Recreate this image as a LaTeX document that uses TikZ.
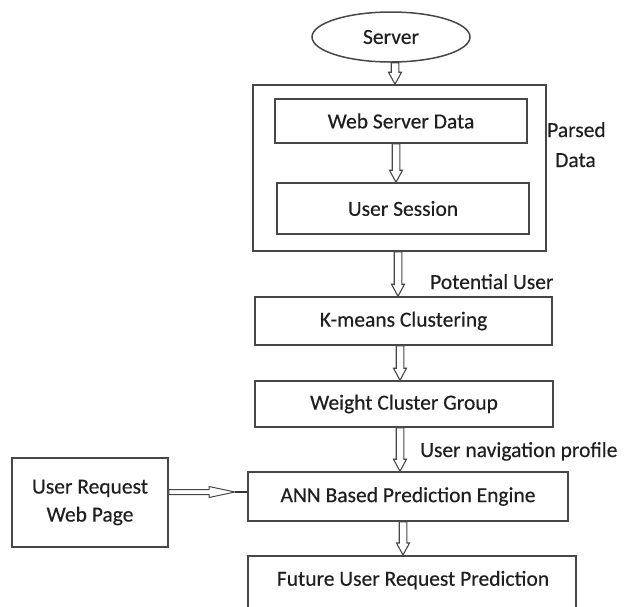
\documentclass[tikz,border=0pt]{standalone}
\usepackage{fontspec}
\setmainfont{Carlito}[FakeBold=0.35]
\usetikzlibrary{calc,shapes.geometric}
\tikzset{
  harrow/.style n args={3}{to path={
    let \p1=(\tikztostart), \p2=(\tikztotarget),
        \n1={veclen(\x2-\x1,\y2-\y1)},
        \n2={(\x2-\x1)/\n1}, \n3={(\y2-\y1)/\n1}
    in ({\x1-(\n3)*#1}, {\y1+(\n2)*#1})
    -- ({\x2-(\n2)*#3-(\n3)*#1}, {\y2-(\n3)*#3+(\n2)*#1})
    -- ({\x2-(\n2)*#3-(\n3)*#2}, {\y2-(\n3)*#3+(\n2)*#2})
    -- (\x2,\y2)
    -- ({\x2-(\n2)*#3+(\n3)*#2}, {\y2-(\n3)*#3-(\n2)*#2})
    -- ({\x2-(\n2)*#3+(\n3)*#1}, {\y2-(\n3)*#3-(\n2)*#1})
    -- ({\x1+(\n3)*#1}, {\y1-(\n2)*#1}) -- cycle
  }},
  txt/.style={font=\fontsize{21.5}{28}\selectfont, text=black!88},
  box/.style={txt, draw=black!72, line width=1.5pt, rectangle, inner sep=0pt},
  lbl/.style={txt, inner sep=0pt, anchor=base west},
  varrow/.style={draw=black!72, line width=1.1pt, fill=white, harrow={3.8pt}{6.5pt}{12pt}},
  sarrow/.style={draw=black!72, line width=1.0pt, fill=white, harrow={2.5pt}{5.5pt}{26pt}},
  plainline/.style={draw=black!80, line width=1.8pt}
}
\begin{document}
\begin{tikzpicture}[x=1pt,y=-1pt]
\useasboundingbox (0,0) rectangle (624,606);
% nodes
\node[box, ellipse, minimum width=158pt, minimum height=50pt] (server) at (391,37) {Server};
\node[box, minimum width=293pt, minimum height=166pt] (outer) at (399.5,168) {};
\node[box, minimum width=252pt, minimum height=44pt] (ws) at (401,121) {Web Server Data};
\node[box, minimum width=252pt, minimum height=51pt] (us) at (403,208.5) {User Session};
\node[box, minimum width=297pt, minimum height=48pt] (km) at (403.5,321) {K-means Clustering};
\node[box, minimum width=298pt, minimum height=46pt] (wc) at (404,404) {Weight Cluster Group};
\node[box, minimum width=320pt, minimum height=49pt] (ann) at (408,496.5) {ANN Based Prediction Engine};
\node[box, minimum width=328pt, minimum height=62pt, anchor=north] (fut) at (412,555) {};
\node[txt, inner sep=0pt] (futt) at (413,580) {Future User Request Prediction};
\node[box, minimum width=156pt, minimum height=89pt, align=center] (u) at (90,502.5) {User Request\\Web Page};
% labels
\node[lbl] (parsed) at (547,137) {Parsed};
\node[lbl] (data) at (555,167) {Data};
\node[lbl] (pot) at (430,289) {Potential User};
\node[lbl] (nav) at (420,457) {User navigation profile};
% connector end points
\coordinate (s1) at ([xshift=4pt]server.south);
\coordinate (s2) at (s1 |- outer.north);
\coordinate (w1) at ([xshift=-5pt]ws.south);
\coordinate (w2) at (w1 |- us.north);
\coordinate (o1) at ([xshift=-1.5pt]outer.south);
\coordinate (o2) at (o1 |- km.north);
\coordinate (k1) at ([xshift=-3.5pt]km.south);
\coordinate (k2) at (k1 |- wc.north);
\coordinate (c1) at ([xshift=-4pt]wc.south);
\coordinate (c2) at (c1 |- ann.north);
\coordinate (a1) at ([xshift=-5pt]ann.south);
\coordinate (a2) at (a1 |- fut.north);
\coordinate (hy) at (0,492);
\coordinate (h0) at (u.east |- hy);
\coordinate (hend) at (235,492);
\coordinate (h1) at (ann.west |- hy);
% connectors
\draw[varrow] (s1) to (s2);
\draw[varrow] (w1) to (w2);
\draw[varrow] (o1) to (o2);
\draw[varrow] (k1) to (k2);
\draw[varrow] (c1) to (c2);
\draw[varrow] (a1) to (a2);
\draw[plainline] (hend) -- (h1);
\draw[sarrow] (h0) to (hend);
\end{tikzpicture}
\end{document}
